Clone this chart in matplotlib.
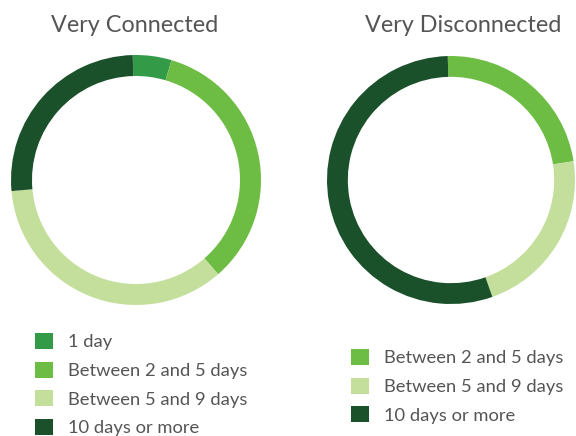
import matplotlib
matplotlib.use("Agg")
import matplotlib.pyplot as plt
from matplotlib.patches import Patch

plt.rcParams['font.family'] = ['Lato', 'DejaVu Sans']

# Data
left_title = "Very Connected"
left_labels = ["1 day", "Between 2 and 5 days", "Between 5 and 9 days", "10 days or more"]
left_values = [5, 34, 35, 26]
left_colors = ["#339a48", "#6dbd45", "#c3df9b", "#1b512a"]

right_title = "Very Disconnected"
right_labels = ["Between 2 and 5 days", "Between 5 and 9 days", "10 days or more"]
right_values = [23, 22, 55]
right_colors = ["#6dbd45", "#c3df9b", "#1b512a"]

TEXT = "#555555"
W, H = 576, 436
fig = plt.figure(figsize=(W / 100, H / 100), dpi=100)


def px_axes(cx, cy, r):
    return fig.add_axes([(cx - r) / W, (H - cy - r) / H, 2 * r / W, 2 * r / H])


def donut(ax, values, colors):
    ax.pie(values, colors=colors, startangle=91.5, counterclock=False,
           wedgeprops=dict(width=0.168, linewidth=0), radius=1.0)
    ax.set_xlim(-1, 1)
    ax.set_ylim(-1, 1)
    ax.set_aspect('equal')
    ax.axis('off')


axL = px_axes(136, 180, 125)
donut(axL, left_values, left_colors)
axR = px_axes(451, 180, 124)
donut(axR, right_values, right_colors)

fig.text(135 / W, 1 - 25 / H, left_title, ha='center', va='center', fontsize=16.8, color=TEXT)
fig.text(463 / W, 1 - 25 / H, right_title, ha='center', va='center', fontsize=16.8, color=TEXT)

fs = 13.2


def make_legend(labels, colors, x, y):
    handles = [Patch(facecolor=c, edgecolor='none') for c in colors]
    leg = fig.legend(handles, labels, loc='upper left', bbox_to_anchor=(x / W, 1 - y / H),
                     frameon=False, fontsize=fs, handlelength=0.98, handleheight=0.98,
                     handletextpad=0.82, labelspacing=0.615, borderpad=0, borderaxespad=0)
    for t in leg.get_texts():
        t.set_color(TEXT)
    return leg


make_legend(left_labels, left_colors, 35, 333)
make_legend(right_labels, right_colors, 351, 349)

fig.savefig("out.png", dpi=100)
